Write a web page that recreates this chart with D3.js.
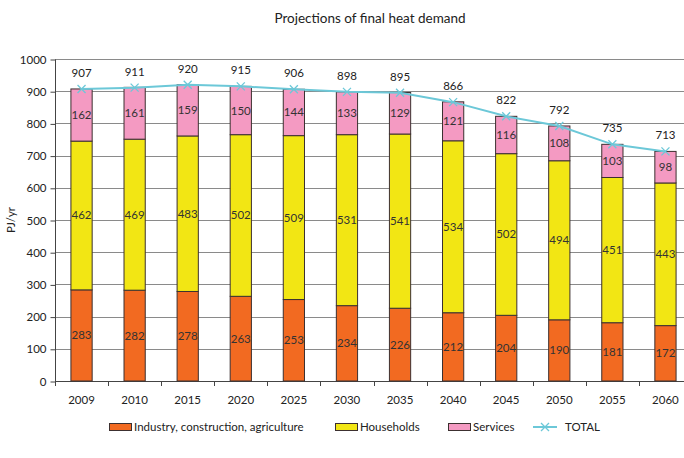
<!DOCTYPE html>
<html>
<head>
<meta charset="utf-8">
<script src="https://cdn.jsdelivr.net/npm/d3@7"></script>
<style>
  body { margin: 0; background: #fff; }
  svg { font-family: Lato, "Open Sans", sans-serif; }
</style>
</head>
<body>
<div id="chart"></div>
<script>
var years = ["2009","2010","2015","2020","2025","2030","2035","2040","2045","2050","2055","2060"];
var industry = [283,282,278,263,253,234,226,212,204,190,181,172];
var households = [462,469,483,502,509,531,541,534,502,494,451,443];
var services = [162,161,159,150,144,133,129,121,116,108,103,98];
var total = [907,911,920,915,906,898,895,866,822,792,735,713];
var yTicks = [0,100,200,300,400,500,600,700,800,900,1000];

var seriesNames = ["Industry, construction, agriculture","Households","Services"];
var colors = ["#f26a21","#f2e614","#f49ac2"];
var lineColor = "#6cc8d8";

var W = 684, H = 458;
var margin = {top: 59, left: 55, bottom: 77};
var svg = d3.select("#chart").append("svg").attr("width", W).attr("height", H);

var x = d3.scaleBand().domain(years).range([margin.left, 692]).paddingInner(0.6).paddingOuter(0.3);
var y = d3.scaleLinear().domain([0, 1000]).range([H - margin.bottom - 0, margin.top]);

// gridlines
svg.append("g").selectAll("line").data(yTicks).enter().append("line")
  .attr("x1", margin.left).attr("x2", W)
  .attr("y1", function(d){ return Math.round(y(d)) + 0.5; })
  .attr("y2", function(d){ return Math.round(y(d)) + 0.5; })
  .attr("stroke", "#8a8a8a").attr("stroke-width", 1);

// y axis
var yAxis = svg.append("g").attr("transform", "translate(" + (margin.left + 0.5) + ",0.5)")
  .call(d3.axisLeft(y).tickValues(yTicks).tickSize(5).tickPadding(4).tickFormat(d3.format("d")));
yAxis.select(".domain").attr("stroke", "#444").attr("d", "M0," + y(1000) + "V" + y(0));
yAxis.selectAll(".tick line").attr("stroke", "#444");
yAxis.selectAll("text").attr("font-size", 11.5).attr("fill", "#222").attr("font-family", "Lato, sans-serif");

// x axis
var step = x.step();
var xg = svg.append("g");
xg.append("line").attr("x1", margin.left).attr("x2", W)
  .attr("y1", Math.round(y(0)) + 0.5).attr("y2", Math.round(y(0)) + 0.5).attr("stroke", "#444");
xg.selectAll(".xt").data(d3.range(years.length + 1)).enter().append("line")
  .attr("x1", function(i){ return Math.round(margin.left + i * step) + 0.5; })
  .attr("x2", function(i){ return Math.round(margin.left + i * step) + 0.5; })
  .attr("y1", y(0)).attr("y2", y(0) + 5).attr("stroke", "#444");
xg.selectAll("text").data(years).enter().append("text")
  .attr("x", function(d){ return x(d) + x.bandwidth() / 2; })
  .attr("y", y(0) + 23).attr("text-anchor", "middle")
  .attr("font-size", 11.5).attr("fill", "#222").text(function(d){ return d; });

// stacked bars
var rows = years.map(function(yr, i){ return {year: yr, s0: industry[i], s1: households[i], s2: services[i]}; });
var stack = d3.stack().keys(["s0","s1","s2"])(rows);
var layers = svg.append("g").selectAll("g").data(stack).enter().append("g")
  .attr("fill", function(d, i){ return colors[i]; });
layers.selectAll("rect").data(function(d){ return d; }).enter().append("rect")
  .attr("x", function(d){ return x(d.data.year); })
  .attr("y", function(d){ return y(d[1]); })
  .attr("width", x.bandwidth())
  .attr("height", function(d){ return y(d[0]) - y(d[1]); })
  .attr("stroke", "#3c3030").attr("stroke-width", 1);
layers.selectAll("text").data(function(d){ return d; }).enter().append("text")
  .attr("x", function(d){ return x(d.data.year) + x.bandwidth() / 2; })
  .attr("y", function(d){ return (y(d[0]) + y(d[1])) / 2 + 4; })
  .attr("text-anchor", "middle").attr("font-size", 11.5).attr("fill", "#333")
  .text(function(d){ return d[1] - d[0]; });

// total line
var line = d3.line()
  .x(function(d, i){ return x(years[i]) + x.bandwidth() / 2; })
  .y(function(d){ return y(d); });
svg.append("path").datum(total).attr("d", line).attr("fill", "none")
  .attr("stroke", lineColor).attr("stroke-width", 2);
var marks = svg.append("g").selectAll("g").data(total).enter().append("g")
  .attr("transform", function(d, i){ return "translate(" + (x(years[i]) + x.bandwidth() / 2) + "," + y(d) + ")"; });
marks.append("path").attr("d", "M-4,-4L4,4M-4,4L4,-4").attr("stroke", lineColor).attr("stroke-width", 1.3);
marks.append("text").attr("y", -12).attr("text-anchor", "middle")
  .attr("font-size", 11.5).attr("fill", "#222").text(function(d){ return d; });

// title
svg.append("text").attr("x", 370).attr("y", 23).attr("text-anchor", "middle")
  .attr("font-size", 13.5).attr("fill", "#222").text("Projections of final heat demand");

// y label
svg.append("text").attr("transform", "translate(15," + ((y(0) + y(1000)) / 2) + ") rotate(-90)")
  .attr("text-anchor", "middle").attr("font-size", 11.5).attr("fill", "#222").text("PJ/yr");

// legend
var legX = [109, 335, 448];
var leg = svg.append("g");
seriesNames.forEach(function(name, i){
  leg.append("rect").attr("x", legX[i] + 0.5).attr("y", 423.5).attr("width", 22).attr("height", 7)
    .attr("fill", colors[i]).attr("stroke", "#3c3030");
  leg.append("text").attr("x", legX[i] + 25).attr("y", 431).attr("font-size", 11.5).attr("fill", "#222").text(name);
});
leg.append("line").attr("x1", 533).attr("x2", 557).attr("y1", 427).attr("y2", 427)
  .attr("stroke", lineColor).attr("stroke-width", 2);
leg.append("path").attr("d", "M541,423L549,431M541,431L549,423").attr("stroke", lineColor).attr("stroke-width", 1.3);
leg.append("text").attr("x", 565).attr("y", 431).attr("font-size", 11.5).attr("fill", "#222").text("TOTAL");
</script>
</body>
</html>
